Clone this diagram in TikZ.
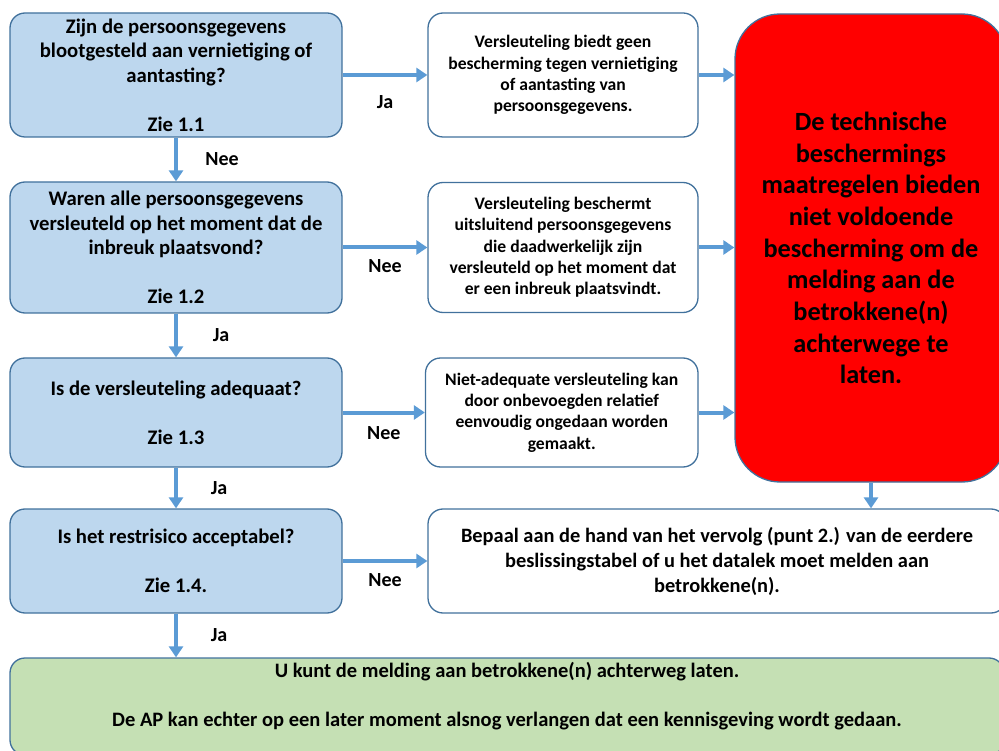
\documentclass[tikz,border=0pt]{standalone}
\usepackage{fontspec}
\setmainfont{Carlito}
\usetikzlibrary{arrows.meta}
\definecolor{qfill}{HTML}{BDD7EE}
\definecolor{edge}{HTML}{41719C}
\definecolor{flow}{HTML}{5B9BD5}
\definecolor{okfill}{HTML}{C5E0B4}
\definecolor{stopfill}{HTML}{FF0000}
\begin{document}
\begin{tikzpicture}[x=1pt,y=-1pt,
  box/.style={draw=edge, line width=1.3pt, rounded corners=15pt, inner sep=0pt, align=center},
  qbox/.style={box, fill=qfill, minimum width=332pt, font=\bfseries\fontsize{20.7}{24.5}\selectfont},
  infobox/.style={box, fill=white, font=\bfseries\fontsize{17.6}{21.3}\selectfont},
  stopbox/.style={box, fill=stopfill, rounded corners=45pt, font=\bfseries\fontsize{26.3}{31.7}\selectfont},
  okbox/.style={box, fill=okfill, font=\bfseries\fontsize{20.5}{24.5}\selectfont},
  arr/.style={draw=flow, line width=4pt, -{Triangle[length=11pt,width=14pt]}},
  lbl/.style={font=\bfseries\fontsize{20}{24}\selectfont, inner sep=0pt}
]
\useasboundingbox (0,0) rectangle (999,751);
\clip (0,0) rectangle (999,751);

% questions on the left
\node[qbox, minimum height=124pt] (q1) at (176,75)
  {Zijn de persoonsgegevens\\ blootgesteld aan vernietiging of\\ aantasting?\\ \mbox{}\\ Zie 1.1};
\node[qbox, minimum height=131pt] (q2) at (176,247.5)
  {Waren alle persoonsgegevens\\ versleuteld op het moment dat de\\ inbreuk plaatsvond?\\ \mbox{}\\ Zie 1.2};
\node[qbox, minimum height=109pt] (q3) at (176,412.5)
  {Is de versleuteling adequaat?\\ \mbox{}\\ Zie 1.3};
\node[qbox, minimum height=104pt] (q4) at (176,561)
  {Is het restrisico acceptabel?\\ \mbox{}\\ Zie 1.4.};

% explanations in the middle
\node[infobox, minimum width=270pt, minimum height=124pt] (w1) at (563,75)
  {Versleuteling biedt geen\\ bescherming tegen vernietiging\\ of aantasting van\\ persoonsgegevens.};
\node[infobox, minimum width=270pt, minimum height=130pt] (w2) at (563,247.5)
  {Versleuteling beschermt\\ uitsluitend persoonsgegevens\\ die daadwerkelijk zijn\\ versleuteld op het moment dat\\ er een inbreuk plaatsvindt.};
\node[infobox, minimum width=272.5pt, minimum height=109pt] (w3) at (561.75,412.5)
  {Niet-adequate versleuteling kan\\ door onbevoegden relatief\\ eenvoudig ongedaan worden\\ gemaakt.};

% conclusion on the right
\node[stopbox, minimum width=272pt, minimum height=468pt] (stop) at (871,248)
  {De technische\\ beschermings\\ maatregelen bieden\\ niet voldoende\\ bescherming om de\\ melding aan de\\ betrokkene(n)\\ achterwege te\\ laten.};

\node[infobox, font=\bfseries\fontsize{20.4}{25}\selectfont, minimum width=578pt, minimum height=104pt] (next) at (717,561)
  {Bepaal aan de hand van het vervolg (punt 2.) van de eerdere\\ beslissingstabel of u het datalek moet melden aan\\ betrokkene(n).};

\node[okbox, minimum width=994pt, minimum height=97pt] (ok) at (507,706.5)
  {U kunt de melding aan betrokkene(n) achterweg laten.\\ \mbox{}\\ De AP kan echter op een later moment alsnog verlangen dat een kennisgeving wordt gedaan.\\ \mbox{}};

% flow downwards
\draw[arr] (q1) -- (q2) node[lbl, midway, xshift=46pt] {Nee};
\draw[arr] (q2) -- (q3) node[lbl, midway, xshift=45pt] {Ja};
\draw[arr] (q3) -- (q4) node[lbl, midway, xshift=43pt] {Ja};
\draw[arr] (q4) -- (q4 |- ok.north) node[lbl, midway, xshift=43pt] {Ja};

% flow to the right
\draw[arr] (q1) -- (w1) node[lbl, midway, yshift=-27pt] {Ja};
\draw[arr] (q2) -- (w2) node[lbl, midway, yshift=-19pt] {Nee};
\draw[arr] (q3) -- (w3) node[lbl, midway, yshift=-21pt] {Nee};
\draw[arr] (q4) -- (next) node[lbl, midway, yshift=-19pt] {Nee};

\draw[arr] (w1.east) -- (w1.east -| stop.west);
\draw[arr] (w2.east) -- (w2.east -| stop.west);
\draw[arr] (w3.east) -- (w3.east -| stop.west);
\draw[arr] (stop.south) -- (stop.south |- next.north);
\end{tikzpicture}
\end{document}
